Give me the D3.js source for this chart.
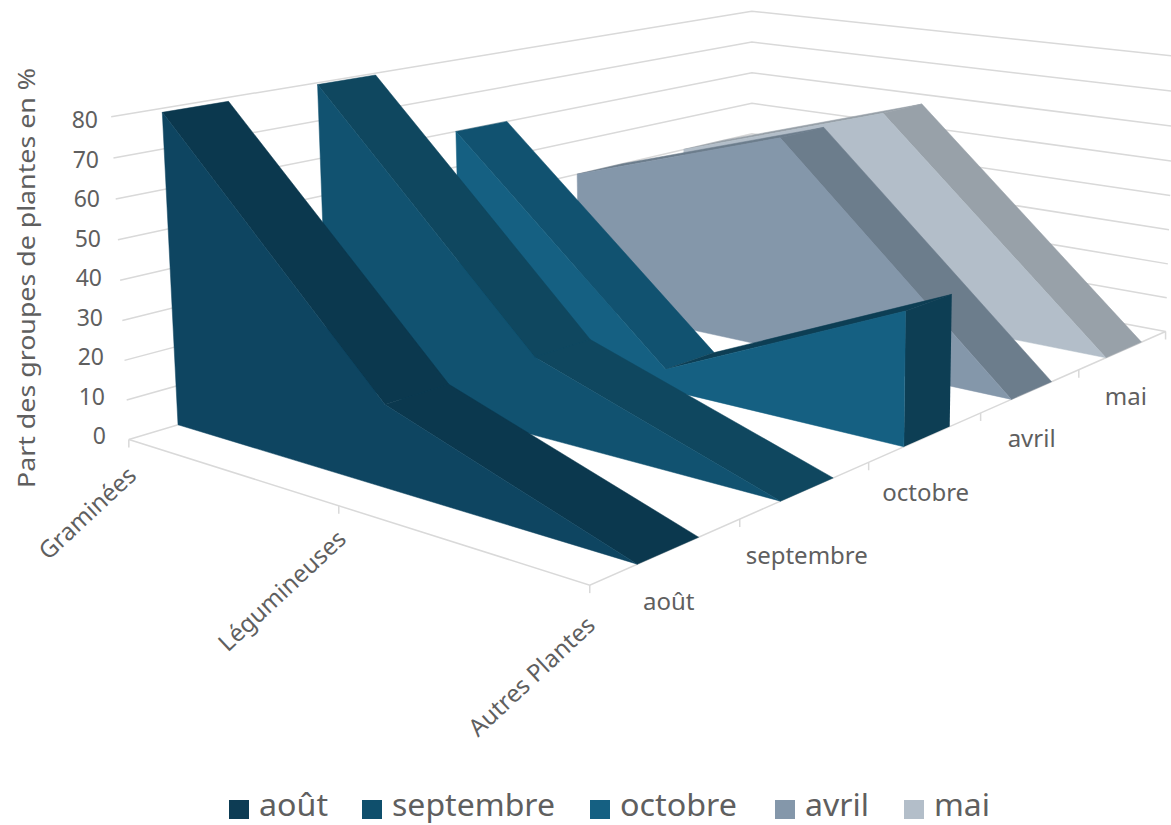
<!DOCTYPE html>
<html><head><meta charset="utf-8">
<script src="https://cdn.jsdelivr.net/npm/d3@7"></script>
<style>html,body{margin:0;background:#fff}svg{display:block}text{font-family:"Noto Sans",sans-serif;fill:#5f5f5f}</style>
</head><body><svg id="c" width="1171" height="825"></svg>
<script>
const categories = ["Graminées","Légumineuses","Autres Plantes"];
const seriesNames = ["août","septembre","octobre","avril","mai"];
const aout = [79,20,0];
const septembre = [79.5,20,0];
const octobre = [60,5.5,34];
const avril = [40,60,0];
const mai = [40,60,0];
const seriesValues = [aout,septembre,octobre,avril,mai];
const frontColors = ["#0e4561","#115270","#156082","#8497aa","#b3bec9"];
const topColors = ["#0b384e","#0f475f","#115270","#6c7d8c","#98a1a9"];
const capColors = ["#0b384e","#0f475f","#0d3e54","#6c7d8c","#98a1a9"];
const legendColors = ["#0d3c54","#0f4f6c","#156082","#8497aa","#b3bec9"];
const legendWidths = [69,163,117,64,56];
const valueTicks = [0,10,20,30,40,50,60,70,80];

/* projection calibration: (category 0-1, depth 0-1, value 0-1) -> screen */
const anchors = [
 [0,0,0,130,437],[1,0,0,589,585],[1,1,0,1166,332],[0,1,0,751,255],
 [0,0,1,110,119],[0,1,1,751,11],[1,1,1,1171,54],[.5,0,0,338,505],
 [1,.2,0,739,520],[1,.4,0,868,463],[1,.6,0,981,413],[1,.8,0,1078,370],
 [0,0,.5,120,280],[1,.46,.425,907,310],[1,.542,.425,953,295],
 [.5,.66,.75,781,139],[.5,.742,.75,825,128],[.5,.86,.75,887,112],[.5,.942,.75,923,105],
 [0,.46,.75,456,132],[0,.542,.75,507,122],[0,.66,.5,576,172]
];
function solve(A,b){const n=b.length,M=A.map((r,i)=>[...r,b[i]]);
 for(let i=0;i<n;i++){let p=i;for(let k=i+1;k<n;k++)if(Math.abs(M[k][i])>Math.abs(M[p][i]))p=k;[M[i],M[p]]=[M[p],M[i]];
  for(let k=0;k<n;k++)if(k!==i){const f=M[k][i]/M[i][i];for(let j=i;j<=n;j++)M[k][j]-=f*M[i][j];}}
 return M.map((r,i)=>r[n]/r[i]);}
const rows=[],rhs=[];
anchors.forEach(([x,y,z,u,v])=>{rows.push([x,y,z,1,0,0,0,0,-u*x,-u*y,-u*z]);rhs.push(u);rows.push([0,0,0,0,x,y,z,1,-v*x,-v*y,-v*z]);rhs.push(v);});
const ATA=d3.range(11).map(i=>d3.range(11).map(j=>d3.sum(rows,r=>r[i]*r[j])));
const ATb=d3.range(11).map(i=>d3.sum(rows,(r,k)=>r[i]*rhs[k]));
const p=solve(ATA,ATb);
function project(x,y,z){const w=p[8]*x+p[9]*y+p[10]*z+1;return [(p[0]*x+p[1]*y+p[2]*z+p[3])/w,(p[4]*x+p[5]*y+p[6]*z+p[7])/w];}

const xScale=d3.scalePoint().domain(categories).range([0,1]);
const depthScale=d3.scaleBand().domain(seriesNames).range([0,1]);
const zScale=d3.scaleLinear().domain([0,80]).range([0,1]);
const ribbonStart=.30, ribbonEnd=.71;
const line=d3.line();
const svg=d3.select("#c");
const poly=(pts)=>line(pts.map(q=>project(...q)))+"Z";

/* walls */
const gridColor="#d9d9d9";
const g=svg.append("g").attr("fill","none").attr("stroke",gridColor).attr("stroke-width",1.5);
valueTicks.forEach(v=>{const z=zScale(v);
 g.append("path").attr("d",line([project(0,0,z),project(0,1,z),project(1,1,z)]));});
g.append("path").attr("d",line([project(0,0,0),project(1,0,0),project(1,1,0)]));
categories.forEach(c=>{const a=project(xScale(c),0,0);g.append("path").attr("d",line([a,[a[0],a[1]+8]]));});
seriesNames.concat(["_end"]).forEach((s,i)=>{if(i===0)return;const a=project(1,i/5,0);g.append("path").attr("d",line([a,[a[0],a[1]+8]]));});

/* ribbons, back to front */
d3.range(seriesNames.length-1,-1,-1).forEach(i=>{
 const name=seriesNames[i], vals=seriesValues[i];
 const b=depthScale.bandwidth(), y0=depthScale(name)+ribbonStart*b, y1=depthScale(name)+ribbonEnd*b;
 const xs=categories.map(c=>xScale(c)), zs=vals.map(v=>zScale(v));
 const r=svg.append("g");
 for(let k=0;k<xs.length-1;k++){
  const d=poly([[xs[k],y0,zs[k]],[xs[k+1],y0,zs[k+1]],[xs[k+1],y1,zs[k+1]],[xs[k],y1,zs[k]]]);
  const col=zs[k+1]>zs[k]?capColors[i]:topColors[i];
  r.append("path").attr("d",d).attr("fill",col).attr("stroke",col).attr("stroke-width",.5);
 }
 const n=xs.length-1;
 r.append("path").attr("d",poly([[xs[n],y0,0],[xs[n],y1,0],[xs[n],y1,zs[n]],[xs[n],y0,zs[n]]])).attr("fill",capColors[i]);
 const front=[...xs.map((x,k)=>[x,y0,zs[k]]),[xs[n],y0,0],[xs[0],y0,0]];
 r.append("path").attr("d",poly(front)).attr("fill",frontColors[i]).attr("stroke",frontColors[i]).attr("stroke-width",.5);
});

/* labels */
const labelX=d3.scaleLinear().domain([0,80]).range([106,98]);
const labelY=d3.scaleLinear().domain([0,80]).range([444,128]);
valueTicks.forEach(v=>{svg.append("text").attr("x",labelX(v)).attr("y",labelY(v)).attr("text-anchor","end").attr("font-size",23).text(v);});
svg.append("text").attr("transform","translate(35,278) rotate(-90)").attr("text-anchor","middle").attr("font-size",24).attr("textLength",420).attr("lengthAdjust","spacingAndGlyphs").text("Part des groupes de plantes en %");
const catOffset=[[9,38],[9,35],[7,42]];
categories.forEach((c,i)=>{const a=project(xScale(c),0,0);
 svg.append("text").attr("transform",`translate(${a[0]+catOffset[i][0]},${a[1]+catOffset[i][1]}) rotate(-43)`).attr("text-anchor","end").attr("font-size",24).text(c);});
const depthLabelOffset=[[79,25],[67,45],[57,39],[51,34],[47,35]];
seriesNames.forEach((s,i)=>{const a=project(1,i/5,0);
 svg.append("text").attr("x",a[0]+depthLabelOffset[i][0]).attr("y",a[1]+depthLabelOffset[i][1]).attr("text-anchor","middle").attr("font-size",24).text(s);});

/* legend */
const legendX=[229,362,590,775,904];
seriesNames.forEach((s,i)=>{
 svg.append("rect").attr("x",legendX[i]).attr("y",800).attr("width",20).attr("height",19).attr("fill",legendColors[i]);
 svg.append("text").attr("x",legendX[i]+30).attr("y",816).attr("font-size",30).attr("textLength",legendWidths[i]).attr("lengthAdjust","spacingAndGlyphs").text(s);
});
</script></body></html>
